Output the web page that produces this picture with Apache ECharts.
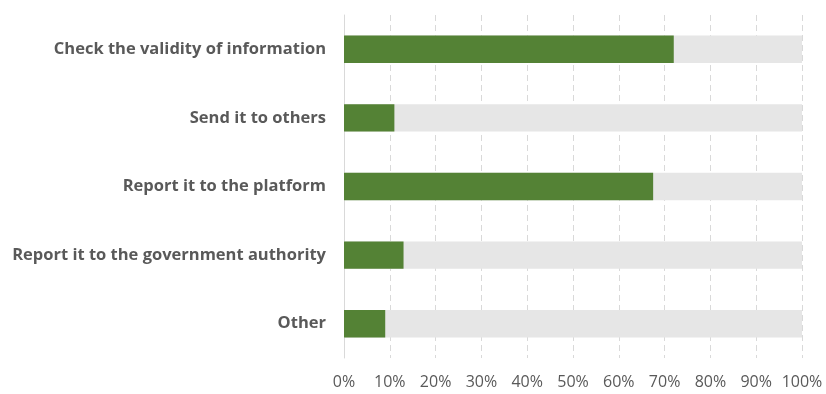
<!DOCTYPE html>
<html>
<head>
<meta charset="utf-8">
<script src="https://cdn.jsdelivr.net/npm/echarts@6/dist/echarts.min.js"></script>
<style>
  html, body { margin: 0; padding: 0; background: #ffffff; }
  #chart { width: 826px; height: 394px; }
</style>
</head>
<body>
<div id="chart"></div>
<script>
// Responses to misinformation (share of respondents, %)
const categories = [
  'Check the validity of information',
  'Send it to others',
  'Report it to the platform',
  'Report it to the government authority',
  'Other'
];
const shares = [72, 11, 67.5, 13, 9];
const axisTicks = [0, 10, 20, 30, 40, 50, 60, 70, 80, 90, 100];

const chart = echarts.init(document.getElementById('chart'), null, { renderer: 'canvas' });

chart.setOption({
  animation: false,
  grid: { left: 344, right: 24, top: 15, bottom: 36, containLabel: false },
  xAxis: {
    type: 'value',
    min: axisTicks[0],
    max: axisTicks[axisTicks.length - 1],
    interval: axisTicks[1] - axisTicks[0],
    axisLine: { show: false },
    axisTick: { show: false },
    splitLine: { show: true, lineStyle: { color: '#d9d9d9', type: [6, 4], width: 1 } },
    axisLabel: {
      formatter: v => v + '%',
      color: '#595959',
      fontFamily: '"Open Sans", sans-serif',
      fontSize: 16,
      margin: 16
    }
  },
  yAxis: {
    type: 'category',
    data: categories,
    inverse: true,
    axisLine: { show: true, lineStyle: { color: '#d9d9d9', width: 1 } },
    axisTick: { show: false },
    axisLabel: {
      color: '#595959',
      fontFamily: '"Open Sans", sans-serif',
      fontWeight: 'bold',
      fontSize: 16.5,
      margin: 18
    }
  },
  series: [{
    type: 'bar',
    data: shares,
    barWidth: '40%',
    showBackground: true,
    backgroundStyle: { color: '#e6e6e6' },
    itemStyle: { color: '#548235' }
  }]
});
</script>
</body>
</html>
